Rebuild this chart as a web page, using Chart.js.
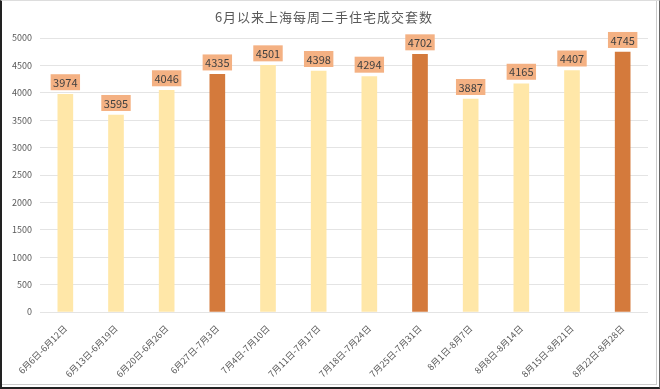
<!DOCTYPE html>
<html><head><meta charset="utf-8">
<script src="https://cdn.jsdelivr.net/npm/chart.js@4"></script>
<style>
html,body{margin:0;padding:0;background:#fff;}
#wrap{position:relative;width:660px;height:389px;box-sizing:border-box;border-left:2px solid #222;border-bottom:2px solid #222;border-right:1px solid #666;border-top:1px solid #ddd;}
#wrap .inner{position:absolute;left:0;top:0;right:2px;bottom:2px;border-right:1px solid #ccc;border-bottom:1px solid #ccc;}
canvas{position:absolute;left:-2px;top:-1px;}
</style></head>
<body>
<div id="wrap"><div class="inner"></div><canvas id="c" width="660" height="389"></canvas></div>
<script>
const categories = ["6月6日-6月12日","6月13日-6月19日","6月20日-6月26日","6月27日-7月3日","7月4日-7月10日","7月11日-7月17日","7月18日-7月24日","7月25日-7月31日","8月1日-8月7日","8月8日-8月14日","8月15日-8月21日","8月22日-8月28日"];
const values = [3974,3595,4046,4335,4501,4398,4294,4702,3887,4165,4407,4745];
const monthEnd = [false,false,false,true,false,false,false,true,false,false,false,true];
const yTicks = [0,500,1000,1500,2000,2500,3000,3500,4000,4500,5000];
const titleText = "6月以来上海每周二手住宅成交套数";

const LIGHT = "#FFE7A8", DARK = "#D47A3C";
const FONT = "'Noto Sans CJK SC','Noto Sans',sans-serif";

const labelPlugin = {
  id: 'valLabels',
  afterDatasetsDraw(chart) {
    const ctx = chart.ctx;
    const meta = chart.getDatasetMeta(0);
    ctx.save();
    ctx.font = "11px " + FONT;
    ctx.textAlign = 'center';
    ctx.textBaseline = 'middle';
    meta.data.forEach((bar, i) => {
      const t = String(values[i]);
      const w = ctx.measureText(t).width + 5;
      const h = 16;
      const cy = bar.y - 12;
      ctx.fillStyle = "#F4B183";
      ctx.fillRect(bar.x - w/2, cy - h/2, w, h);
      ctx.fillStyle = "#404040";
      ctx.fillText(t, bar.x, cy + 0.5);
    });
    ctx.restore();
  }
};
const titlePlugin = {
  id: 'ttl',
  afterDraw(chart) {
    const ctx = chart.ctx;
    ctx.save();
    ctx.font = "13px " + FONT;
    ctx.fillStyle = "#595959";
    ctx.textAlign = 'center';
    ctx.textBaseline = 'middle';
    try { ctx.letterSpacing = "1px"; } catch(e) {}
    ctx.fillText(titleText, 324, 17);
    ctx.restore();
  }
};

new Chart(document.getElementById('c'), {
  type: 'bar',
  data: {
    labels: categories,
    datasets: [{
      data: values,
      backgroundColor: values.map((v,i) => monthEnd[i] ? DARK : LIGHT),
      barThickness: 15,
      borderWidth: 0
    }]
  },
  options: {
    responsive: false,
    animation: false,
    layout: { padding: { left: 2, right: 12, top: 38, bottom: 0 } },
    plugins: { legend: { display: false }, title: { display: false }, tooltip: { enabled: false } },
    scales: {
      x: {
        grid: { display: false },
        border: { display: false },
        ticks: { color: "#595959", font: { size: 9, family: FONT }, maxRotation: 45, minRotation: 45, autoSkip: false, padding: 3 },
        afterFit(s) { s.height = 77; }
      },
      y: {
        min: 0, max: 5000,
        afterBuildTicks(s) { s.ticks = yTicks.map(v => ({ value: v })); },
        grid: { color: "#E4E4E4", drawTicks: false },
        border: { display: false },
        ticks: { color: "#595959", font: { size: 9, family: FONT }, padding: 8, callback: v => String(v) },
        afterFit(s) { s.width = 38; }
      }
    }
  },
  plugins: [labelPlugin, titlePlugin]
});
</script>
</body></html>
